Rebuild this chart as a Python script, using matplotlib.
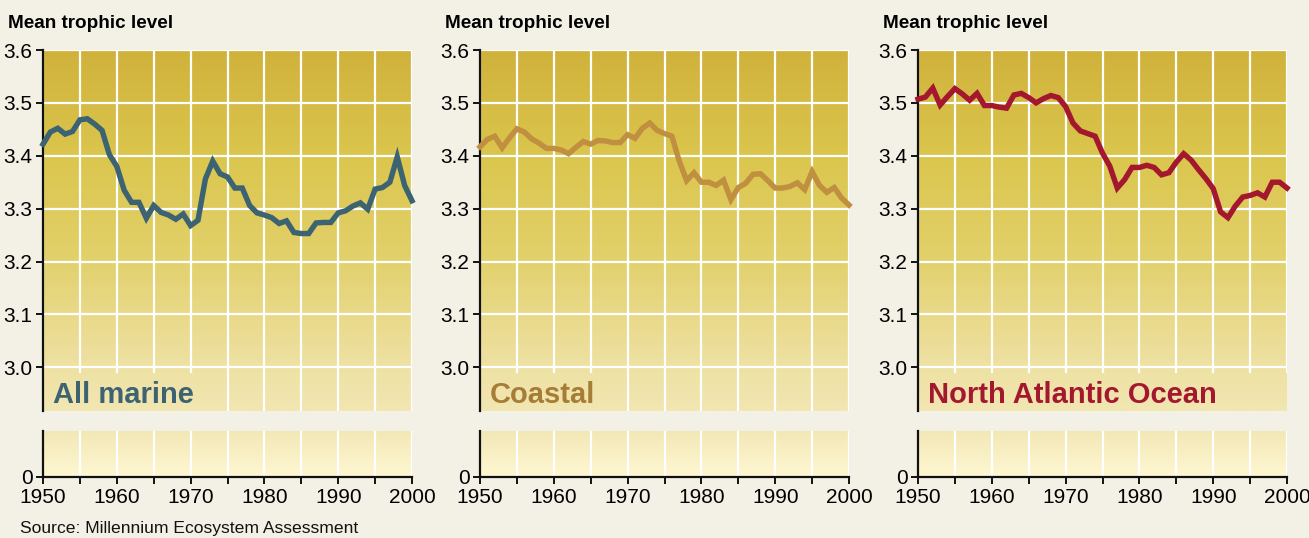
import numpy as np
import matplotlib
matplotlib.use("Agg")
import matplotlib.pyplot as plt
from matplotlib.colors import LinearSegmentedColormap
from matplotlib.patches import Rectangle
from matplotlib.ticker import MultipleLocator, FixedLocator

# ---------------- data ----------------
years = list(range(1950, 2001))

all_marine = [3.422, 3.445, 3.452, 3.441, 3.446, 3.468, 3.470, 3.460, 3.448, 3.402,
              3.380, 3.335, 3.312, 3.312, 3.282, 3.306, 3.293, 3.288, 3.280, 3.290,
              3.268, 3.278, 3.356, 3.390, 3.366, 3.360, 3.339, 3.339, 3.306, 3.292,
              3.288, 3.283, 3.272, 3.277, 3.255, 3.253, 3.253, 3.273, 3.274, 3.274,
              3.292, 3.296, 3.305, 3.311, 3.299, 3.337, 3.340, 3.350, 3.398, 3.344,
              3.315]

coastal = [3.417, 3.431, 3.437, 3.415, 3.434, 3.451, 3.445, 3.432, 3.424, 3.414,
           3.414, 3.411, 3.404, 3.416, 3.427, 3.422, 3.429, 3.428, 3.425, 3.425,
           3.440, 3.433, 3.452, 3.462, 3.448, 3.442, 3.437, 3.390, 3.353, 3.368,
           3.350, 3.350, 3.344, 3.354, 3.317, 3.340, 3.348, 3.365, 3.366, 3.353,
           3.339, 3.339, 3.342, 3.349, 3.336, 3.370, 3.344, 3.331, 3.340, 3.320,
           3.307]

north_atlantic = [3.507, 3.511, 3.528, 3.496, 3.512, 3.527, 3.517, 3.505, 3.518, 3.495,
                  3.495, 3.492, 3.490, 3.515, 3.518, 3.510, 3.500, 3.508, 3.514, 3.510,
                  3.493, 3.462, 3.447, 3.442, 3.437, 3.405, 3.380, 3.339, 3.355, 3.378,
                  3.378, 3.382, 3.378, 3.364, 3.368, 3.388, 3.404, 3.392, 3.374, 3.357,
                  3.338, 3.294, 3.283, 3.305, 3.322, 3.325, 3.330, 3.322, 3.350, 3.350,
                  3.339]

series = [all_marine, coastal, north_atlantic]
panel_names = ["All marine", "Coastal", "North Atlantic Ocean"]
y_ticks = [3.0, 3.1, 3.2, 3.3, 3.4, 3.5, 3.6]
y_tick_labels = ["3.0", "3.1", "3.2", "3.3", "3.4", "3.5", "3.6"]
x_ticks = [1950, 1960, 1970, 1980, 1990, 2000]
y_axis_title = "Mean trophic level"
source_text = "Source: Millennium Ecosystem Assessment"

# ---------------- style ----------------
plt.rcParams["font.family"] = ["Liberation Sans", "DejaVu Sans"]

line_colors = ["#3B6372", "#C08F40", "#A3182F"]
label_colors = ["#3B6372", "#A67D36", "#A3182F"]
box_ends = [1974.85, 1969.85, 2000]

W_PX, H_PX = 1309, 538
fig = plt.figure(figsize=(W_PX / 100, H_PX / 100), dpi=100)
fig.patch.set_facecolor("#F3F1E6")

upper_cmap = LinearSegmentedColormap.from_list(
    "upper", [(0.0, "#F2E6B2"), (0.13, "#EEE1A2"), (0.43, "#E2D06A"),
              (0.70, "#DBC64E"), (1.0, "#D0B23B")])
lower_cmap = LinearSegmentedColormap.from_list(
    "lower", [(0.0, "#FEF8D2"), (1.0, "#F3E7B6")])
grad = np.linspace(0, 1, 256).reshape(-1, 1)

lefts_px = [43, 480, 918]
width_px = 369
up_top, up_bot = 50, 411
lo_top, lo_bot = 431, 477
TICK_FS = 15

for i, lx in enumerate(lefts_px):
    ax = fig.add_axes([lx / W_PX, 1 - up_bot / H_PX, width_px / W_PX, (up_bot - up_top) / H_PX])
    ax2 = fig.add_axes([lx / W_PX, 1 - lo_bot / H_PX, width_px / W_PX, (lo_bot - lo_top) / H_PX])

    # upper panel
    ax.set_xlim(1950, 2000)
    ax.set_ylim(2.9175, 3.6)
    ax.imshow(grad, extent=[0, 1, 0, 1], transform=ax.transAxes, aspect="auto",
              cmap=upper_cmap, origin="lower", zorder=0)
    ax.set_axisbelow(True)
    ax.xaxis.set_major_locator(MultipleLocator(5))
    ax.yaxis.set_major_locator(FixedLocator(y_ticks))
    ax.set_yticklabels(y_tick_labels)
    ax.grid(True, color="white", lw=1.6)
    ax.tick_params(axis="x", length=0, labelbottom=False)
    ax.tick_params(axis="y", direction="out", length=5, width=1.3, pad=2.5,
                   labelsize=TICK_FS, colors="black")
    for s in ["top", "right", "bottom"]:
        ax.spines[s].set_visible(False)
    ax.spines["left"].set_linewidth(1.6)
    ax.spines["left"].set_color("#111111")

    # label box that hides the grid behind the label
    rect = Rectangle((1950, 2.9175), box_ends[i] - 1950, 2.989 - 2.9175,
                     transform=ax.transData, facecolor="none", edgecolor="none")
    ax.add_patch(rect)
    im2 = ax.imshow(grad, extent=[0, 1, 0, 1], transform=ax.transAxes, aspect="auto",
                    cmap=upper_cmap, origin="lower", zorder=1)
    im2.set_clip_path(rect)

    ax.plot(years, series[i], color=line_colors[i], lw=3.9, zorder=3,
            solid_joinstyle="miter", clip_on=False)
    ax.text(10 / width_px, 8 / (up_bot - up_top), panel_names[i], transform=ax.transAxes,
            fontsize=21, fontweight="bold", color=label_colors[i], ha="left",
            va="baseline", zorder=4)

    # lower panel (broken axis down to 0)
    ax2.set_xlim(1950, 2000)
    ax2.set_ylim(0, 1)
    ax2.imshow(grad, extent=[0, 1, 0, 1], transform=ax2.transAxes, aspect="auto",
               cmap=lower_cmap, origin="lower", zorder=0)
    ax2.set_axisbelow(True)
    ax2.xaxis.set_major_locator(FixedLocator(x_ticks))
    ax2.xaxis.set_minor_locator(MultipleLocator(5))
    ax2.set_yticks([0])
    ax2.set_yticklabels(["0"])
    ax2.grid(True, which="both", axis="x", color="white", lw=1.6)
    ax2.tick_params(axis="x", which="both", direction="out", length=5, width=1.3,
                    pad=3, labelsize=TICK_FS, colors="black")
    ax2.tick_params(axis="y", direction="out", length=5, width=1.3, pad=2.5,
                    labelsize=TICK_FS, colors="black")
    for s in ["top", "right"]:
        ax2.spines[s].set_visible(False)
    for s in ["left", "bottom"]:
        ax2.spines[s].set_linewidth(1.6)
        ax2.spines[s].set_color("#111111")

    fig.text((lx - 35) / W_PX, 1 - 23 / H_PX, y_axis_title, fontsize=13.6,
             fontweight="bold", ha="left", va="center", color="black")

fig.text(20 / W_PX, 1 - 529 / H_PX, source_text, fontsize=12.6, ha="left",
         va="center", color="#111111")

fig.savefig("out.png", dpi=100, facecolor=fig.get_facecolor())
